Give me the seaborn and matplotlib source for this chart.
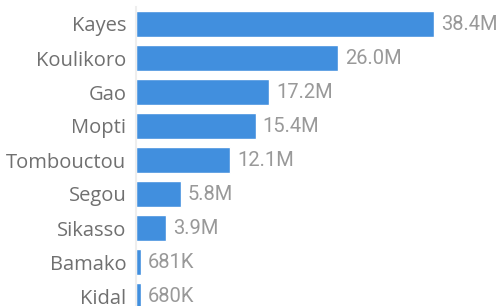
import matplotlib
matplotlib.use("Agg")
import matplotlib.pyplot as plt
import seaborn as sns
import pandas as pd

regions = ["Kayes", "Koulikoro", "Gao", "Mopti", "Tombouctou", "Segou", "Sikasso", "Bamako", "Kidal"]
values = [38.4e6, 26.0e6, 17.2e6, 15.4e6, 12.1e6, 5.8e6, 3.9e6, 681e3, 680e3]
labels = ["38.4M", "26.0M", "17.2M", "15.4M", "12.1M", "5.8M", "3.9M", "681K", "680K"]

df = pd.DataFrame({"region": regions, "value": values})

sns.set_theme(style="white")
fig = plt.figure(figsize=(4.97, 3.06), dpi=100)
H = 306.0
ax = fig.add_axes([136 / 497, 1 - (7 + 34 * 9) / H, (497 - 136) / 497, 34 * 9 / H])
sns.barplot(data=df, x="value", y="region", color="#418fde", width=0.76,
            saturation=1, ax=ax, orient="h")
ax.set_xlim(0, 38.4e6 * (497 - 136) / 298)
ax.set_ylim(8.5, -0.5)
ax.set_xlabel("")
ax.set_ylabel("")
ax.set_xticks([])
for s in ["top", "right", "bottom"]:
    ax.spines[s].set_visible(False)
ax.spines["left"].set_color("#eeeeee")
ax.spines["left"].set_linewidth(1.5)
ax.tick_params(axis="y", length=0, pad=7)
for t in ax.get_yticklabels():
    t.set_fontfamily("Open Sans")
    t.set_fontsize(14.5)
    t.set_color("#707070")
for i, (v, lab) in enumerate(zip(values, labels)):
    ax.annotate(lab, (v, i), xytext=(5, 0), textcoords="offset points",
                va="center", ha="left", fontsize=14.5, color="#999999",
                family="Roboto")
fig.savefig("out.png", dpi=100)
